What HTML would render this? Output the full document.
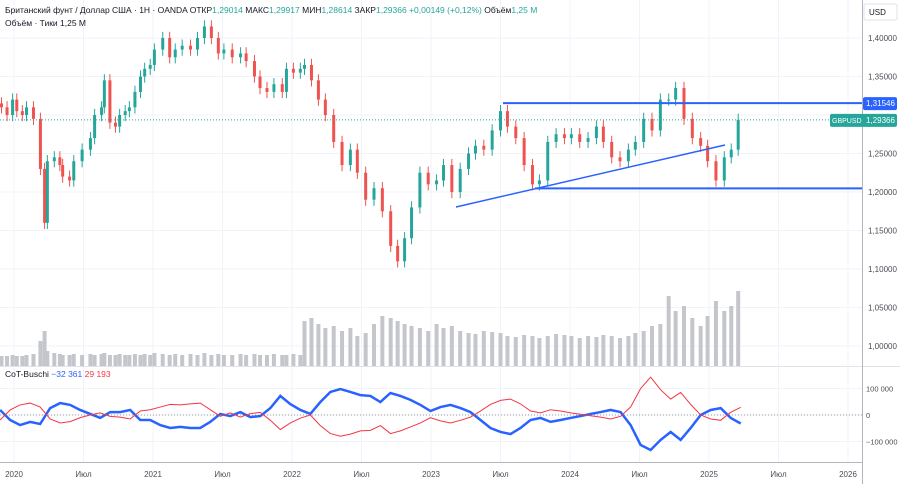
<!DOCTYPE html>
<html><head><meta charset="utf-8"><style>
body{margin:0;background:#fff;font-family:"Liberation Sans","Noto Sans CJK SC",sans-serif;}
svg text{font-family:"Liberation Sans","Noto Sans CJK SC",sans-serif;}
</style></head><body>
<svg id="c" width="900" height="484" xmlns="http://www.w3.org/2000/svg"></svg>
<script>
const dates=[2019.91,2019.95,2019.99,2020.02,2020.06,2020.09,2020.14,2020.19,2020.22,2020.24,2020.29,2020.33,2020.35,2020.40,2020.43,2020.49,2020.55,2020.58,2020.63,2020.65,2020.69,2020.73,2020.76,2020.80,2020.83,2020.87,2020.91,2020.94,2020.98,2021.01,2021.07,2021.12,2021.16,2021.21,2021.27,2021.32,2021.37,2021.42,2021.47,2021.51,2021.57,2021.63,2021.67,2021.73,2021.77,2021.82,2021.87,2021.93,2021.96,2022.01,2022.06,2022.09,2022.14,2022.19,2022.24,2022.30,2022.36,2022.42,2022.47,2022.53,2022.59,2022.65,2022.71,2022.76,2022.81,2022.86,2022.92,2022.98,2023.04,2023.09,2023.15,2023.21,2023.27,2023.32,2023.38,2023.44,2023.50,2023.55,2023.61,2023.67,2023.73,2023.78,2023.84,2023.90,2023.96,2024.01,2024.07,2024.13,2024.19,2024.24,2024.30,2024.36,2024.42,2024.47,2024.53,2024.59,2024.65,2024.71,2024.76,2024.82,2024.88,2024.94,2024.99,2025.05,2025.11,2025.16,2025.21];
const closes=[1.31,1.30,1.32,1.305,1.30,1.31,1.295,1.23,1.16,1.24,1.245,1.235,1.22,1.215,1.24,1.255,1.27,1.30,1.31,1.345,1.29,1.285,1.30,1.305,1.31,1.33,1.35,1.36,1.365,1.385,1.40,1.375,1.385,1.39,1.385,1.40,1.415,1.40,1.38,1.385,1.375,1.38,1.37,1.35,1.335,1.33,1.34,1.33,1.36,1.355,1.36,1.365,1.345,1.32,1.30,1.265,1.235,1.255,1.225,1.19,1.205,1.175,1.13,1.11,1.14,1.18,1.225,1.21,1.215,1.235,1.20,1.23,1.25,1.26,1.255,1.28,1.305,1.285,1.27,1.235,1.21,1.215,1.265,1.275,1.27,1.275,1.265,1.27,1.285,1.265,1.245,1.24,1.255,1.265,1.295,1.28,1.32,1.32,1.335,1.295,1.27,1.26,1.24,1.215,1.245,1.255,1.2937];
const volumes=[100,100,110,100,100,110,120,250,350,150,130,120,110,110,120,110,120,110,120,130,110,110,120,110,110,120,110,120,110,130,120,110,120,110,120,110,130,110,120,110,110,120,110,120,110,110,120,110,110,120,110,450,480,420,380,400,350,380,300,330,420,500,480,450,420,400,380,350,420,380,400,350,330,320,350,340,330,300,290,310,300,280,300,320,310,300,280,300,290,310,300,280,300,330,350,400,420,700,550,600,480,400,500,650,550,600,750];
const cotDates=[];for(let i=0;i<=74;i++)cotDates.push(2019.9+i*0.072);
const cotBlue=[19,-19,-38,-26,-34,26,45,38,19,4,-11,11,11,19,-19,-19,-38,-49,-45,-49,-49,-26,4,-4,11,-8,-4,26,72,41,19,4,49,87,98,87,75,72,49,83,72,57,38,15,30,38,26,11,-19,-49,-64,-72,-49,-19,-11,-26,-19,-11,-4,4,11,19,11,-38,-113,-132,-94,-64,-94,-49,0,19,26,-11,-32];
const cotRed=[-19,19,38,45,30,-15,-30,-25,-10,0,8,-5,-8,-15,15,20,30,40,38,42,45,20,-5,8,-8,5,10,-20,-55,-30,-12,0,-40,-70,-80,-72,-60,-58,-40,-70,-60,-45,-30,-10,-22,-30,-20,-8,15,40,55,60,42,15,8,20,15,8,3,-3,-8,-15,-5,30,100,143,95,60,85,40,0,-15,-20,10,29];
const priceTicks=[1.00,1.05,1.10,1.15,1.20,1.25,1.35,1.40];
const timeTicks=[[2020,'2020'],[2020.5,'Июл'],[2021,'2021'],[2021.5,'Июл'],[2022,'2022'],[2022.5,'Июл'],[2023,'2023'],[2023.5,'Июл'],[2024,'2024'],[2024.5,'Июл'],[2025,'2025'],[2025.5,'Июл'],[2026,'2026']];
const cotTicks=[[100000,'100 000'],[0,'0'],[-100000,'−100 000']];

const X=t=>14+(t-2020)*139;
const Y=p=>346-(p-1.0)*770;
const VY=v=>366-v/10;
const CY=k=>415-k*0.265;
const NS='http://www.w3.org/2000/svg';
const svg=document.getElementById('c');
function el(tag,attrs,parent){const e=document.createElementNS(NS,tag);for(const k in attrs)e.setAttribute(k,attrs[k]);(parent||svg).appendChild(e);return e;}
function txt(x,y,s,attrs){const e=el('text',Object.assign({x:x,y:y,'font-size':8,fill:'#131722'},attrs||{}));e.textContent=s;return e;}

const grid=el('g',{});


for(const p of priceTicks.concat([1.30]))el('line',{x1:0,x2:862,y1:Y(p),y2:Y(p),stroke:'#f0f3fa'},grid);
for(const t of timeTicks)el('line',{x1:X(t[0]),x2:X(t[0]),y1:0,y2:462,stroke:'#f0f3fa'},grid);
for(const c of cotTicks)el('line',{x1:0,x2:862,y1:CY(c[0]/1000),y2:CY(c[0]/1000),stroke:'#f0f3fa'},grid);

const vg=el('g',{});


for(let i=0;i<dates.length;i++){
  const b=el('rect',{x:X(dates[i])-2,y:VY(volumes[i]),width:4,height:366-VY(volumes[i]),fill:'#c4c6cc'},vg);
  
  
}
const cg=el('g',{});


for(let i=0;i<dates.length;i++){
  const c=closes[i], o=i?closes[i-1]:closes[0]+0.005;
  const up=c>=o, col=up?'#26a69a':'#ef5350';
  const x=X(dates[i]);
  const hi=Math.max(o,c)+0.008, lo=Math.min(o,c)-0.008;
  const g=el('g',{},cg);
  
  
  el('line',{x1:x,x2:x,y1:Y(hi),y2:Y(lo),stroke:col,'stroke-width':1},g);
  el('rect',{x:x-1.5,y:Y(Math.max(o,c)),width:3,height:Math.max(1,Math.abs(Y(o)-Y(c))),fill:col},g);
}
const dl=el('g',{});


el('line',{x1:503,x2:862,y1:Y(1.31546),y2:Y(1.31546),stroke:'#2962ff','stroke-width':2},dl);
el('line',{x1:535,x2:862,y1:Y(1.2047),y2:Y(1.2047),stroke:'#2962ff','stroke-width':2},dl);
el('line',{x1:456,x2:725,y1:207,y2:145,stroke:'#2962ff','stroke-width':1.5},dl);
const lp=el('line',{x1:0,x2:862,y1:Y(1.2937),y2:Y(1.2937),stroke:'#26a69a','stroke-dasharray':'1 2'});



el('line',{x1:0,x2:900,y1:366.5,y2:366.5,stroke:'#e0e3eb'});
el('line',{x1:0,x2:862,y1:462.5,y2:462.5,stroke:'#b2b5be'});
el('line',{x1:862.5,x2:862.5,y1:0,y2:484,stroke:'#b2b5be'});

el('line',{x1:0,x2:862,y1:CY(0),y2:CY(0),stroke:'#9598a1','stroke-dasharray':'1 2'});
const cb=el('polyline',{points:cotDates.map((d,i)=>X(d)+','+CY(cotBlue[i])).join(' '),fill:'none',stroke:'#2962ff','stroke-width':2.5});


const cr=el('polyline',{points:cotDates.map((d,i)=>X(d)+','+CY(cotRed[i])).join(' '),fill:'none',stroke:'#f23645','stroke-width':1});



for(const p of priceTicks){const t=txt(868,Y(p)+3,p.toFixed(5).replace('.',','),{fill:'#4a4d57'});}
for(const c of cotTicks){const t=txt(866,CY(c[0]/1000)+3,c[1],{fill:'#4a4d57','font-size':7.5});}
for(const t of timeTicks){const e=txt(X(t[0]),477,t[1],{'text-anchor':'middle',fill:'#4a4d57'});}

const usd=el('rect',{x:864,y:4,width:33,height:16,fill:'#fff',stroke:'#e0e3eb',rx:2});


txt(869,15,'USD');
const t1=el('rect',{x:863,y:Y(1.31546)-6,width:34,height:13,fill:'#2962ff',rx:2});


txt(866,Y(1.31546)+3,'1,31546',{fill:'#fff'});
const t2=el('rect',{x:830,y:Y(1.2937)-6,width:67,height:13,fill:'#26a69a',rx:2});


txt(832,Y(1.2937)+3,'GBPUSD',{fill:'#fff','font-size':7});
txt(866,Y(1.2937)+3,'1,29366',{fill:'#fff'});

const lg=el('text',{x:5,y:13,'font-size':8.5,fill:'#131722'});


lg.innerHTML='Британский фунт / Доллар США · 1Н · OANDA  ОТКР<tspan fill="#26a69a">1,29014</tspan>  МАКС<tspan fill="#26a69a">1,29917</tspan>  МИН<tspan fill="#26a69a">1,28614</tspan>  ЗАКР<tspan fill="#26a69a">1,29366</tspan>  <tspan fill="#26a69a">+0,00149 (+0,12%)</tspan>  Объём<tspan fill="#26a69a">1,25 М</tspan>';
const vl=txt(5,26,'Объём · Тики  1,25 М',{'font-size':8.5});

const cl=el('text',{x:5,y:377,'font-size':8.5,fill:'#131722'});


cl.innerHTML='CoT-Buschi  <tspan fill="#2962ff">−32 361</tspan>  <tspan fill="#f23645">29 193</tspan>';
</script>
</body></html>
